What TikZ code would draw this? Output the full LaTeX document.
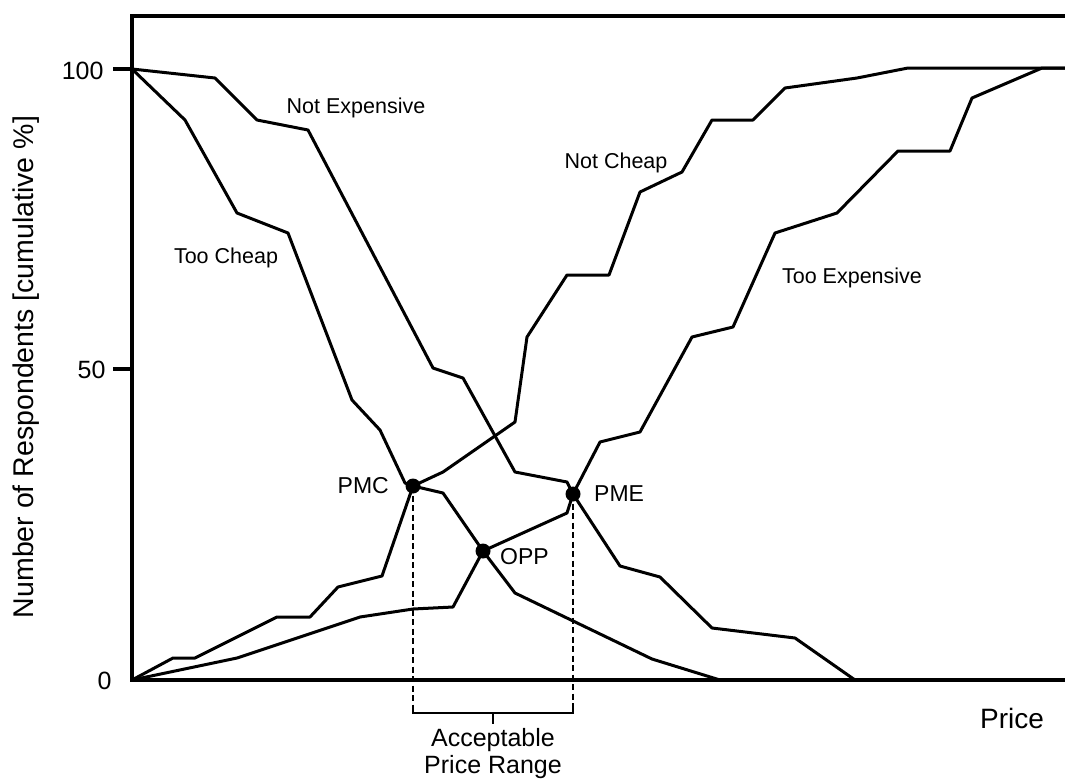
\documentclass[tikz,border=0pt]{standalone}
\usepackage{fontspec}
\setmainfont{Liberation Sans}
\usetikzlibrary{positioning}

\begin{document}
\begin{tikzpicture}[x=1pt,y=-1pt,
  curve/.style={line width=3pt,line join=round},
  frame/.style={line width=3.6pt},
  dot/.style={circle,fill,inner sep=0pt,minimum size=15pt},
  clabel/.style={font=\fontsize{21.5}{24}\selectfont},
  plabel/.style={font=\fontsize{23}{26}\selectfont},
  alabel/.style={font=\fontsize{25}{27}\selectfont}]
  \useasboundingbox (0,0) rectangle (1065,780);
  % threshold points
  \coordinate (pmc) at (413,486);
  \coordinate (opp) at (483,551);
  \coordinate (pme) at (573,494);
  % too cheap
  \draw[curve] (132,69) -- (185,120) -- (237,213) -- (288,233) -- (352,400) -- (380,430)
    -- (405,483) -- (pmc) -- (443,493) -- (opp) -- (515,593) -- (652,659) -- (720,680);
  % not expensive
  \draw[curve] (132,69) -- (215,78) -- (257,120) -- (308,130) -- (433,368) -- (463,378)
    -- (515,472) -- (567,482) -- (pme) -- (620,566) -- (660,577) -- (712,628) -- (795,638)
    -- (855,680);
  % not cheap
  \draw[curve] (132,680) -- (173,658) -- (195,658) -- (277,617) -- (310,617) -- (338,587)
    -- (382,576) -- (pmc) -- (443,472) -- (515,422) -- (527,337) -- (567,275) -- (609,275)
    -- (640,192) -- (682,172) -- (712,120) -- (753,120) -- (785,88) -- (857,78) -- (908,68)
    -- (1070,68);
  % too expensive
  \draw[curve] (132,680) -- (237,658) -- (360,617) -- (413,609) -- (453,607) -- (opp)
    -- (567,513) -- (pme) -- (600,442) -- (640,432) -- (692,337) -- (733,327) -- (775,233)
    -- (837,213) -- (898,151) -- (950,151) -- (972,98) -- (1042,68) -- (1070,68);
  % frame and ticks
  \draw[frame] (1070,16) -- (132,16) -- (132,680) -- (1070,680);
  \foreach \y in {69,369} \draw[frame] (113,\y) -- (132,\y);
  \node[alabel,anchor=east] (t100) at (107,71) {100};
  \node[alabel,anchor=east] (t50) at (109,370) {50};
  \node[alabel,anchor=east] (t0) at (115,681) {0};
  \node[rotate=90,font=\fontsize{28.5}{30}\selectfont] (ylab) at (26,367)
    {Number of Respondents [cumulative \%]};
  \node[font=\fontsize{28}{30}\selectfont] (xlab) at (1012,718) {Price};
  % curve labels
  \node[clabel] (lblNE) at (356,108) {Not Expensive};
  \node[clabel] (lblTC) at (226,258) {Too Cheap};
  \node[clabel] (lblNC) at (616,163) {Not Cheap};
  \node[clabel] (lblTE) at (852,278) {Too Expensive};
  % acceptable range
  \coordinate (brL) at (413,705);
  \coordinate (brR) at (573,705);
  \coordinate (brM) at (493,713);
  \coordinate (brT) at (493,724);
  \draw[line width=2.2pt,dash pattern=on 6pt off 3.5pt] (pmc) -- (brL);
  \draw[line width=2.2pt,dash pattern=on 6pt off 3.5pt] (pme) -- (brR);
  \draw[line width=2.3pt] (brL) -- (brL |- brM) -- (brR |- brM) -- (brR);
  \draw[line width=2.3pt] (brM) -- (brT);
  \node[alabel,align=center,inner sep=0pt,below=4pt of brT] (range) {Acceptable\\Price Range};
  % dots
  \node[dot] (pmcdot) at (pmc) {};
  \node[dot] (oppdot) at (opp) {};
  \node[dot] (pmedot) at (pme) {};
  \node[plabel,left=13pt of pmcdot] (pmclbl) {PMC};
  \node[plabel,right=6pt of oppdot,yshift=-6pt] (opplbl) {OPP};
  \node[plabel,right=10pt of pmedot] (pmelbl) {PME};
\end{tikzpicture}
\end{document}
